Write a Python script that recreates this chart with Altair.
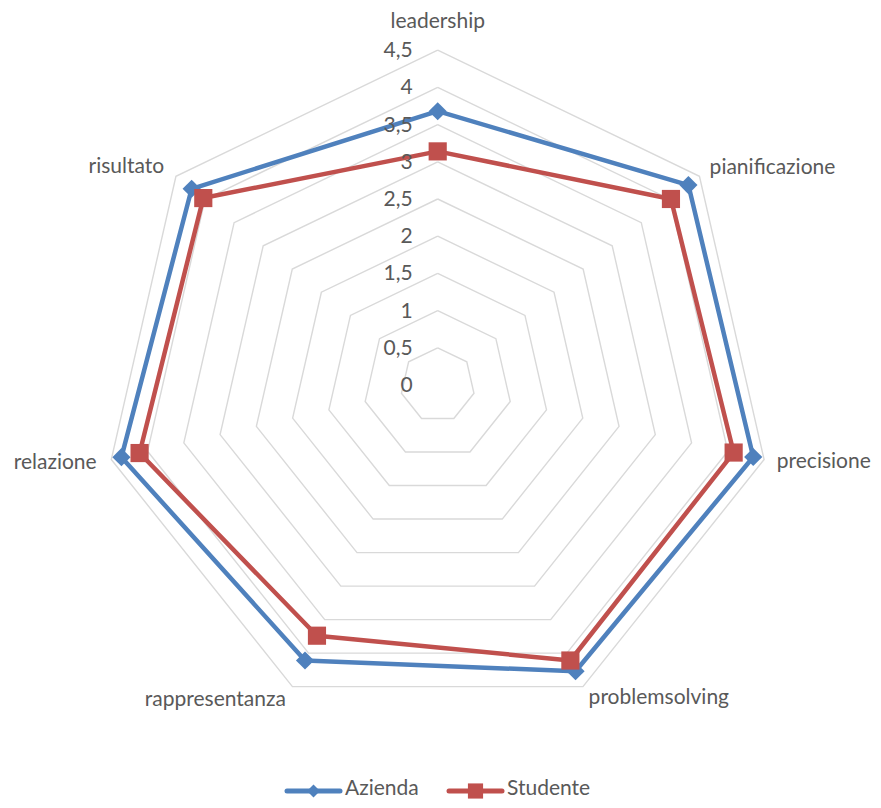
import altair as alt
import pandas as pd

# ---------------- data ----------------
categories = ["leadership", "pianificazione", "precisione", "problemsolving",
              "rappresentanza", "relazione", "risultato"]
azienda = [3.68, 4.31, 4.35, 4.27, 4.11, 4.36, 4.23]
studente = [3.14, 4.01, 4.08, 4.11, 3.74, 4.11, 4.03]
series_names = ["Azienda", "Studente"]
series_colors = ["#4F81BD", "#C0504D"]
series_shapes = ["diamond", "square"]
ring_levels = [0.5, 1, 1.5, 2, 2.5, 3, 3.5, 4, 4.5]
tick_values = [0, 0.5, 1, 1.5, 2, 2.5, 3, 3.5, 4, 4.5]
tick_labels = ["0", "0,5", "1", "1,5", "2", "2,5", "3", "3,5", "4", "4,5"]

N = len(categories)
RMAX = 4.5
FONT = "Lato"
FS = 21
TXT = "#595959"

# long tables (closed polygons: first vertex repeated at the end)
series_rows = []
for name, vals in zip(series_names, [azienda, studente]):
    for i in range(N + 1):
        series_rows.append({"serie": name, "ord": i, "idx": i % N, "value": vals[i % N]})
series_df = pd.DataFrame(series_rows)

ring_rows = []
for lev in ring_levels:
    for i in range(N + 1):
        ring_rows.append({"ring": lev, "ord": i, "idx": i % N, "value": lev})
ring_df = pd.DataFrame(ring_rows)

cat_df = pd.DataFrame({"cat": categories, "idx": list(range(N))})
tick_df = pd.DataFrame({"v": tick_values, "lab": tick_labels})

# ---------------- scales (pixel geometry of the view) ----------------
W, H = 865, 792
CX, CY, PPU = 429.7, 377.0, 74.4   # centre in view px, pixels per unit
xdom = [(0 - CX) / PPU, (W - CX) / PPU]
ydom = [(CY - H) / PPU, (CY - 0) / PPU]
xs = alt.Scale(domain=xdom, nice=False, zero=False)
ys = alt.Scale(domain=ydom, nice=False, zero=False)
cscale = alt.Scale(domain=series_names, range=series_colors)


def project(chart, rexpr):
    return chart.transform_calculate(
        theta=f"datum.idx * 2 * PI / {N}"
    ).transform_calculate(
        px=f"({rexpr}) * sin(datum.theta)",
        py=f"({rexpr}) * cos(datum.theta)",
    )


X = alt.X("px:Q", scale=xs, axis=None)
Y = alt.Y("py:Q", scale=ys, axis=None)

rings = project(alt.Chart(ring_df), "datum.value").mark_line(
    color="#D9D9D9", strokeWidth=1.4
).encode(x=X, y=Y, detail="ring:N", order="ord:Q")

lines = project(alt.Chart(series_df), "datum.value").mark_line(
    strokeWidth=4.5, strokeJoin="round"
).encode(x=X, y=Y, color=alt.Color("serie:N", scale=cscale, legend=None),
         detail="serie:N", order="ord:Q")

point_layers = []
for name, shp in zip(series_names, series_shapes):
    point_layers.append(
        project(alt.Chart(series_df), "datum.value").transform_filter(
            f"datum.serie == '{name}' && datum.ord < {N}"
        ).mark_point(filled=True, shape=shp, size=330, opacity=1).encode(
            x=X, y=Y, color=alt.Color("serie:N", scale=cscale, legend=None))
    )

# category labels
lab_top = project(alt.Chart(cat_df), f"{RMAX} + {22 / PPU}").transform_filter(
    "abs(sin(datum.theta)) < 0.1"
).mark_text(font=FONT, fontSize=FS, color=TXT, align="center", baseline="alphabetic").encode(
    x=X, y=Y, text="cat:N")
lab_right = project(alt.Chart(cat_df), f"{RMAX} + {13 / PPU}").transform_filter(
    "sin(datum.theta) >= 0.1"
).mark_text(font=FONT, fontSize=FS, color=TXT, align="left", baseline="middle").encode(
    x=X, y=Y, text="cat:N")
lab_left = project(alt.Chart(cat_df), f"{RMAX} + {15 / PPU}").transform_filter(
    "sin(datum.theta) <= -0.1"
).mark_text(font=FONT, fontSize=FS, color=TXT, align="right", baseline="middle").encode(
    x=X, y=Y, text="cat:N")

# radial tick labels
ticks = alt.Chart(tick_df).transform_calculate(px="0", py="datum.v").mark_text(
    font=FONT, fontSize=FS, color=TXT, align="right", baseline="middle", dx=-25, dy=1
).encode(x=X, y=Y, text="lab:N")

# legend drawn as a row of (line + marker + label) entries at the bottom
LEG_Y = 783
LEG_X0 = [277, 439]
SEG = 57
legend_layers = []
for name, col, shp, x0 in zip(series_names, series_colors, series_shapes, LEG_X0):
    one = alt.Chart(pd.DataFrame({"serie": [name]}))
    legend_layers.append(one.mark_rule(color=col, strokeWidth=5, strokeCap="round").encode(
        x=alt.value(x0 + 2), x2=alt.value(x0 + SEG - 2), y=alt.value(LEG_Y)))
    legend_layers.append(one.mark_point(filled=True, shape=shp, color=col, opacity=1,
                                        size=170 if shp == "diamond" else 230).encode(
        x=alt.value(x0 + SEG / 2), y=alt.value(LEG_Y)))
    legend_layers.append(one.mark_text(font=FONT, fontSize=FS, color=TXT, align="left",
                                       baseline="middle").encode(
        x=alt.value(x0 + SEG + 3), y=alt.value(LEG_Y - 2), text="serie:N"))

chart = alt.layer(
    rings, lines, *point_layers, lab_top, lab_right, lab_left, ticks, *legend_layers
).properties(
    width=W, height=H, padding=0,
    autosize=alt.AutoSizeParams(type="none"),
    background="white",
).configure_view(stroke=None)

chart.save("out.html", embed_options={"renderer": "svg", "actions": False})
